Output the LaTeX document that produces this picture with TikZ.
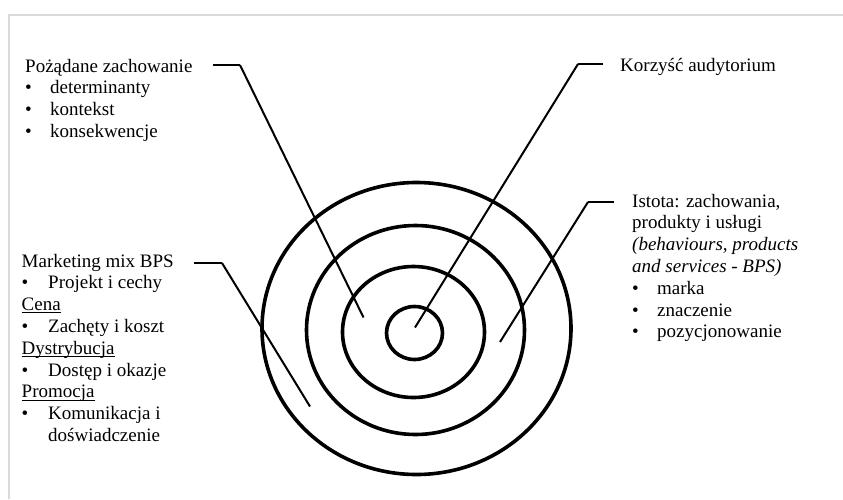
\documentclass[tikz,border=0pt]{standalone}
\usepackage{fontspec}
\setmainfont{Liberation Serif}
\usetikzlibrary{shapes.geometric}
\definecolor{framegray}{HTML}{D9D9D9}
\newcommand\myul[1]{\setbox0\hbox{#1}\rlap{\rule[-2.6pt]{\wd0}{0.9pt}}\box0}
\newcommand\bul[1][25pt]{\makebox[#1][l]{•}}
\begin{document}
\begin{tikzpicture}[x=1pt,y=-1pt,
  ring/.style={draw,ellipse,line width=3.6pt,inner sep=0pt},
  tick/.style={line width=2.7pt},
  lead/.style={line width=2pt},
  txt/.style={anchor=base west,inner sep=0pt,font=\fontsize{19}{21.8}\selectfont},
  frame/.style={draw=framegray,line width=2pt}]
\useasboundingbox (0,0) rectangle (843,499);
\draw[frame] (9,499) -- (9,15) -- (843,15);
% rings
\node[ring,minimum width=309pt,minimum height=292pt] (r1) at (416.5,328.5) {};
\node[ring,minimum width=218pt,minimum height=209pt] (r2) at (415.5,330) {};
\node[ring,minimum width=142pt,minimum height=131pt] (r3) at (413.5,332) {};
\node[ring,minimum width=56pt,minimum height=53pt] (r4) at (414.5,333) {};
% texts
\node[txt] (t1) at (25,72) {\begin{tabular}[t]{@{}l@{}}
Pożądane zachowanie\\
\bul determinanty\\
\bul kontekst\\
\bul konsekwencje
\end{tabular}};
\node[txt] (t2) at (620,71) {Korzyść audytorium};
\node[txt] (t3) at (632,207) {\begin{tabular}[t]{@{}l@{}}
Istota: zachowania,\\
produkty i usługi\\
\textit{(behaviours, products}\\
\textit{and services - BPS)}\\
\bul marka\\
\bul znaczenie\\
\bul pozycjonowanie
\end{tabular}};
\node[txt] (t4) at (21.5,267) {\begin{tabular}[t]{@{}l@{}}
Marketing mix BPS\\
\bul[26.5pt]Projekt i cechy\\
\myul{Cena}\\
\bul[26.5pt]Zachęty i koszt\\
\myul{Dystrybucja}\\
\bul[26.5pt]Dostęp i okazje\\
\myul{Promocja}\\
\bul[26.5pt]Komunikacja i\\
\hspace*{26.5pt}doświadczenie
\end{tabular}};
% connector points
\coordinate (a1) at (213,65);
\coordinate (a2) at (240,65);
\coordinate (a3) at (363.5,317.5);
\coordinate (b1) at (603,64);
\coordinate (b2) at (578,64);
\coordinate (b3) at (415,327.5);
\coordinate (c1) at (614,202);
\coordinate (c2) at (588,202);
\coordinate (c3) at (500,342);
\coordinate (d1) at (194,263);
\coordinate (d2) at (222,263);
\coordinate (d3) at (310,406.5);
\draw[tick] (a1) -- (a2);
\draw[lead] (a2) -- (a3);
\draw[tick] (b1) -- (b2);
\draw[lead] (b2) -- (b3);
\draw[tick] (c1) -- (c2);
\draw[lead] (c2) -- (c3);
\draw[tick] (d1) -- (d2);
\draw[lead] (d2) -- (d3);
\end{tikzpicture}
\end{document}
